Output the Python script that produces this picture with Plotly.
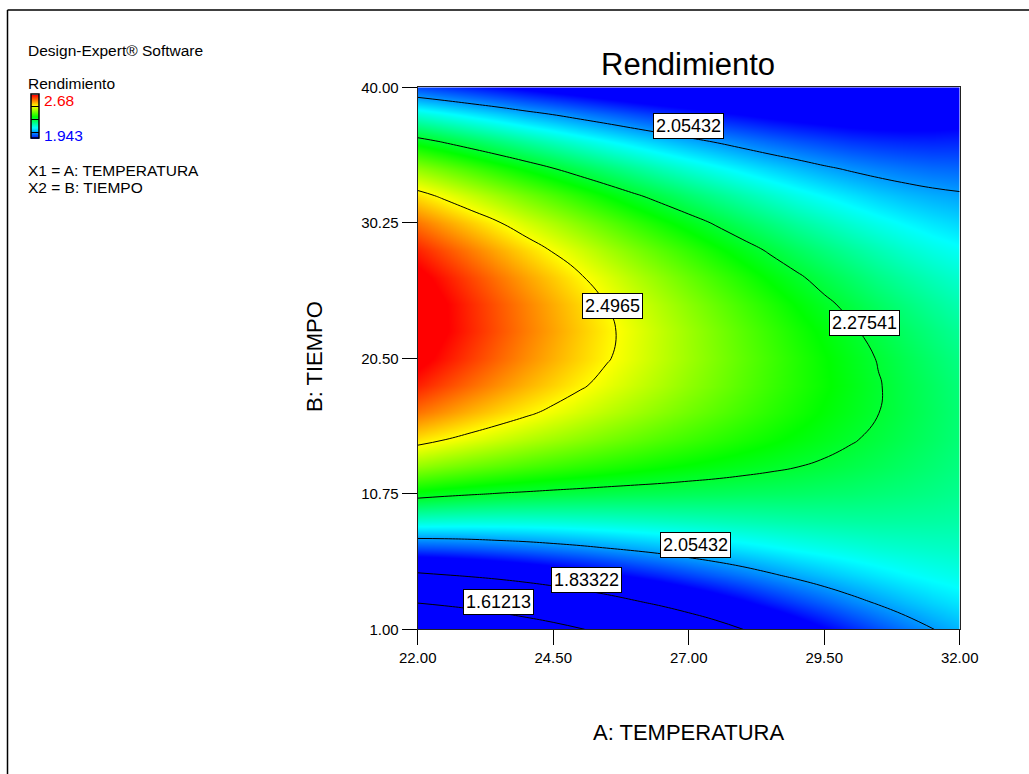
import plotly.graph_objects as go

# ---------------- data ----------------
temperatura = [22.0, 22.5, 23.0, 23.5, 24.0, 24.5, 25.0, 25.5, 26.0, 26.5, 27.0,
               27.5, 28.0, 28.5, 29.0, 29.5, 30.0, 30.5, 31.0, 31.5, 32.0]   # A: TEMPERATURA
tiempo = [1.00, 2.95, 4.90, 6.85, 8.80, 10.75, 12.70, 14.65, 16.60, 18.55, 20.50,
          22.45, 24.40, 26.35, 28.30, 30.25, 32.20, 34.15, 36.10, 38.05, 40.00]  # B: TIEMPO

# Rendimiento surface: one row per tiempo value, one column per temperatura value
r_0100 = [1.399, 1.429, 1.462, 1.496, 1.532, 1.568, 1.606, 1.644, 1.682, 1.720, 1.758, 1.795, 1.833, 1.869, 1.905, 1.939, 1.971, 2.001, 2.028, 2.053, 2.075]
r_0295 = [1.619, 1.640, 1.662, 1.687, 1.713, 1.740, 1.767, 1.795, 1.824, 1.852, 1.881, 1.909, 1.936, 1.964, 1.990, 2.015, 2.039, 2.060, 2.080, 2.097, 2.111]
r_0490 = [1.818, 1.831, 1.845, 1.860, 1.877, 1.895, 1.913, 1.932, 1.952, 1.971, 1.991, 2.010, 2.029, 2.048, 2.066, 2.083, 2.098, 2.112, 2.125, 2.135, 2.143]
r_0685 = [1.998, 2.002, 2.008, 2.016, 2.024, 2.034, 2.044, 2.055, 2.066, 2.077, 2.089, 2.100, 2.111, 2.122, 2.133, 2.142, 2.150, 2.158, 2.163, 2.167, 2.170]
r_0880 = [2.158, 2.155, 2.153, 2.153, 2.154, 2.156, 2.159, 2.162, 2.166, 2.170, 2.174, 2.178, 2.182, 2.186, 2.190, 2.193, 2.195, 2.196, 2.195, 2.194, 2.191]
r_1075 = [2.298, 2.288, 2.280, 2.273, 2.268, 2.263, 2.259, 2.255, 2.252, 2.250, 2.247, 2.245, 2.242, 2.240, 2.238, 2.234, 2.231, 2.226, 2.221, 2.215, 2.208]
r_1270 = [2.418, 2.402, 2.388, 2.376, 2.364, 2.353, 2.343, 2.334, 2.325, 2.316, 2.308, 2.300, 2.292, 2.284, 2.276, 2.268, 2.259, 2.250, 2.240, 2.230, 2.219]
r_1465 = [2.517, 2.497, 2.478, 2.460, 2.443, 2.427, 2.412, 2.397, 2.383, 2.369, 2.356, 2.343, 2.330, 2.318, 2.305, 2.292, 2.279, 2.266, 2.253, 2.240, 2.226]
r_1660 = [2.597, 2.573, 2.549, 2.527, 2.506, 2.485, 2.465, 2.446, 2.428, 2.410, 2.392, 2.375, 2.358, 2.341, 2.325, 2.308, 2.292, 2.276, 2.260, 2.244, 2.228]
r_1855 = [2.657, 2.629, 2.602, 2.576, 2.551, 2.527, 2.503, 2.480, 2.458, 2.437, 2.415, 2.395, 2.374, 2.354, 2.335, 2.316, 2.297, 2.278, 2.259, 2.242, 2.224]
r_2050 = [2.697, 2.666, 2.636, 2.607, 2.579, 2.552, 2.526, 2.500, 2.475, 2.450, 2.426, 2.403, 2.380, 2.358, 2.336, 2.314, 2.293, 2.273, 2.253, 2.234, 2.216]
r_2245 = [2.717, 2.684, 2.652, 2.621, 2.591, 2.562, 2.533, 2.505, 2.478, 2.451, 2.425, 2.400, 2.375, 2.351, 2.327, 2.304, 2.282, 2.260, 2.240, 2.221, 2.203]
r_2440 = [2.716, 2.683, 2.649, 2.617, 2.586, 2.555, 2.525, 2.495, 2.466, 2.438, 2.411, 2.385, 2.359, 2.334, 2.309, 2.285, 2.263, 2.241, 2.221, 2.202, 2.184]
r_2635 = [2.696, 2.662, 2.628, 2.595, 2.563, 2.532, 2.501, 2.471, 2.441, 2.413, 2.385, 2.358, 2.332, 2.306, 2.282, 2.258, 2.236, 2.214, 2.195, 2.177, 2.161]
r_2830 = [2.656, 2.622, 2.589, 2.556, 2.524, 2.492, 2.462, 2.431, 2.402, 2.374, 2.347, 2.320, 2.294, 2.269, 2.245, 2.222, 2.201, 2.181, 2.162, 2.146, 2.133]
r_3025 = [2.596, 2.563, 2.531, 2.499, 2.467, 2.437, 2.407, 2.378, 2.349, 2.322, 2.296, 2.270, 2.245, 2.222, 2.199, 2.178, 2.158, 2.140, 2.124, 2.110, 2.099]
r_3220 = [2.516, 2.485, 2.454, 2.424, 2.394, 2.365, 2.337, 2.309, 2.282, 2.257, 2.232, 2.209, 2.186, 2.164, 2.143, 2.124, 2.107, 2.091, 2.078, 2.068, 2.061]
r_3415 = [2.415, 2.387, 2.359, 2.331, 2.304, 2.277, 2.251, 2.226, 2.202, 2.178, 2.156, 2.135, 2.115, 2.096, 2.079, 2.062, 2.048, 2.036, 2.027, 2.020, 2.017]
r_3610 = [2.295, 2.270, 2.245, 2.221, 2.197, 2.173, 2.150, 2.128, 2.107, 2.087, 2.068, 2.051, 2.034, 2.018, 2.004, 1.992, 1.981, 1.974, 1.969, 1.967, 1.969]
r_3805 = [2.155, 2.134, 2.113, 2.093, 2.072, 2.053, 2.034, 2.016, 1.998, 1.982, 1.968, 1.954, 1.942, 1.930, 1.921, 1.913, 1.907, 1.904, 1.904, 1.908, 1.916]
r_4000 = [1.995, 1.979, 1.963, 1.947, 1.931, 1.916, 1.902, 1.888, 1.876, 1.865, 1.855, 1.848, 1.843, 1.840, 1.838, 1.837, 1.837, 1.838, 1.841, 1.846, 1.857]

niveles = [1.61213, 1.83322, 2.05432, 2.27541, 2.4965]   # contour levels
rend_min, rend_max = 1.943, 2.68                          # colour-key range
x_ticks = [22.0, 24.5, 27.0, 29.5, 32.0]
y_ticks = [1.0, 10.75, 20.5, 30.25, 40.0]

rendimiento = [r_0100, r_0295, r_0490, r_0685, r_0880, r_1075, r_1270, r_1465, r_1660,
               r_1855, r_2050, r_2245, r_2440, r_2635, r_2830, r_3025, r_3220, r_3415,
               r_3610, r_3805, r_4000]

# ---------------- figure ----------------
W, H = 1029, 774
FONT = "Liberation Sans, Arial, sans-serif"

def px(x):
    return x / W

def py(y):
    return 1 - y / H

colorscale = [[0.0, "rgb(0,0,255)"], [0.25, "rgb(0,255,255)"], [0.5, "rgb(0,255,0)"],
              [0.75, "rgb(255,255,0)"], [1.0, "rgb(255,0,0)"]]

paso = (niveles[-1] - niveles[0]) / (len(niveles) - 1)

fig = go.Figure()
fig.add_trace(go.Contour(
    x=temperatura, y=tiempo, z=rendimiento,
    zauto=False, zmin=rend_min, zmax=rend_max,
    colorscale=colorscale,
    autocontour=False,
    contours=dict(start=niveles[0], end=niveles[-1] + 1e-6, size=paso,
                  coloring="heatmap", showlabels=False),
    line=dict(color="black", width=1, smoothing=1.3),
    hoverinfo="skip",
    showscale=True,
    colorbar=dict(x=px(30.5), xanchor="left", xref="paper",
                  y=py(94.5), yanchor="top", yref="paper",
                  lenmode="pixels", len=44, thicknessmode="pixels", thickness=8,
                  outlinewidth=1.5, outlinecolor="black",
                  xpad=0, ypad=0, borderwidth=0,
                  showticklabels=False, ticks=""),
))

tick_font = dict(family=FONT, size=15, color="black")
common_axis = dict(ticks="outside", ticklen=15, tickcolor="black", tickwidth=1,
                   showline=True, linecolor="#222", linewidth=1, mirror=True,
                   showgrid=False, zeroline=False, tickfont=tick_font, automargin=False)
fig.update_xaxes(domain=[px(417.7), px(959.7)], range=[22, 32],
                 tickvals=x_ticks, ticktext=[f"{v:.2f}" for v in x_ticks], **common_axis)
fig.update_yaxes(domain=[py(629.3), py(87.3)], range=[1, 40],
                 tickvals=y_ticks, ticktext=[f"{v:.2f}" for v in y_ticks], **common_axis)

ann = []
# contour labels in white boxes
etiquetas = [(2, 26.99, 37.25), (4, 25.585, 24.24), (3, 30.24, 23.01),
             (2, 27.12, 7.04), (1, 25.11, 4.55), (0, 23.49, 2.94)]
for idx, ex, ey in etiquetas:
    ann.append(dict(x=ex, y=ey, xref="x", yref="y", text=str(niveles[idx]),
                    showarrow=False, bgcolor="white", bordercolor="black",
                    borderwidth=1, borderpad=2,
                    font=dict(family=FONT, size=18, color="black")))

def txt(text, x, y, size, color="black", xanchor="left", angle=0):
    return dict(text=text, x=px(x), y=py(y), xref="paper", yref="paper",
                xanchor=xanchor, yanchor="middle", showarrow=False, textangle=angle,
                font=dict(family=FONT, size=size, color=color))

ann += [
    txt("Rendimiento", 688, 64.2, 31, xanchor="center"),
    txt("A: TEMPERATURA", 688, 732, 22, xanchor="center"),
    txt("B: TIEMPO", 315, 357, 22, xanchor="center", angle=-90),
    txt("Design-Expert® Software", 26, 50.5, 15.5),
    txt("Rendimiento", 26, 84, 15.5),
    txt(f"{rend_max:g}", 42, 100.8, 15.5, color="#ff0000"),
    txt(f"{rend_min:g}", 42, 135.4, 15.5, color="#0000ff"),
    txt("X1 = A: TEMPERATURA", 26, 170.4, 15.5),
    txt("X2 = B: TIEMPO", 26, 187, 15.5),
]

fig.update_layout(
    width=W, height=H,
    margin=dict(l=0, r=0, t=0, b=0, pad=0, autoexpand=False),
    paper_bgcolor="white", plot_bgcolor="white",
    annotations=ann, showlegend=False,
    font=dict(family=FONT, color="black"),
    shapes=[
        dict(type="line", xref="paper", yref="paper", x0=px(7.5), x1=1.0,
             y0=py(10), y1=py(10), line=dict(color="black", width=1.5)),
        dict(type="line", xref="paper", yref="paper", x0=px(7.5), x1=px(7.5),
             y0=py(10), y1=0.0, line=dict(color="black", width=1.5)),
    ],
)

fig.write_html("out.html")
